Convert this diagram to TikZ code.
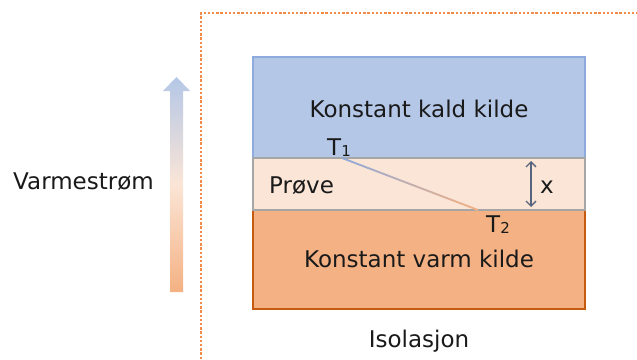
\documentclass[tikz,border=0pt]{standalone}
\usepackage{fontspec}
\setmainfont{DejaVu Sans}
\usetikzlibrary{arrows.meta,calc}
\definecolor{coldfill}{HTML}{B4C7E7}
\definecolor{colddraw}{HTML}{8FAADC}
\definecolor{samplefill}{HTML}{FBE5D6}
\definecolor{sampledraw}{HTML}{A6A6A6}
\definecolor{hotfill}{HTML}{F4B183}
\definecolor{hotdraw}{HTML}{C55A11}
\definecolor{insul}{HTML}{F08C48}
\definecolor{dimcol}{HTML}{56657D}
\definecolor{txt}{HTML}{1A1A1A}
\newcommand{\subdig}[1]{\raisebox{-1.5pt}{\fontsize{15}{16}\selectfont #1}}
\tikzset{
  layer/.style={draw, line width=2pt, inner sep=0pt, outer sep=0pt, minimum width=332pt},
  lbl/.style={font=\fontsize{23}{26}\selectfont, text=txt, inner sep=0pt, anchor=base},
}
\begin{document}
\begin{tikzpicture}[x=1pt,y=-1pt]
\useasboundingbox (0,0) rectangle (637,359);
% insulation boundary
\coordinate (i1) at (201,359);
\coordinate (i2) at (201,13);
\coordinate (i3) at (637,13);
\draw[insul, line width=2.6pt, dash pattern=on 2.4pt off 1.8pt] (i1) -- (i2) -- (i3);
% layers
\node[layer, draw=colddraw, fill=coldfill, minimum height=101pt] (cold) at (419,107.5) {};
\node[layer, draw=hotdraw, fill=hotfill, minimum height=99pt] (hot) at (419,259.5) {};
\node[layer, draw=sampledraw, fill=samplefill, minimum height=52pt] (sample) at (419,184) {};
% texts
\node[lbl] (tcold) at (419,117) {Konstant kald kilde};
\node[lbl] (thot) at (419,267) {Konstant varm kilde};
\node[lbl, anchor=base west] (tsample) at (269,193) {Prøve};
\node[lbl] (tiso) at (419,347) {Isolasjon};
\node[lbl, anchor=base west] (tflow) at (13,189) {Varmestrøm};
\node[lbl, anchor=base west] (t1) at (327,155) {T\subdig{1}};
\node[lbl, anchor=base west] (t2) at (486,232) {T\subdig{2}};
\node[lbl, anchor=base west] (tx) at (540,193) {x};
% temperature profile
\coordinate (p1) at (342,158);
\coordinate (p2) at (478,210);
\shade[left color=colddraw, right color=hotfill] ($(p1)+(0,-1)$) -- ($(p2)+(0,-1)$) -- ($(p2)+(0,1)$) -- ($(p1)+(0,1)$) -- cycle;
% thickness dimension
\coordinate (d1) at (531,161);
\coordinate (d2) at (531,207);
\draw[dimcol, line width=1.3pt, {Straight Barb[length=5pt,width=10pt]}-{Straight Barb[length=5pt,width=10pt]}] (d1) -- (d2);
% heat flow arrow
\shade[bottom color=hotfill, top color=coldfill, middle color=samplefill]
  (170,292) -- (170,91) -- (163,91) -- (176.5,77) -- (190,91) -- (183,91) -- (183,292) -- cycle;
\end{tikzpicture}
\end{document}
